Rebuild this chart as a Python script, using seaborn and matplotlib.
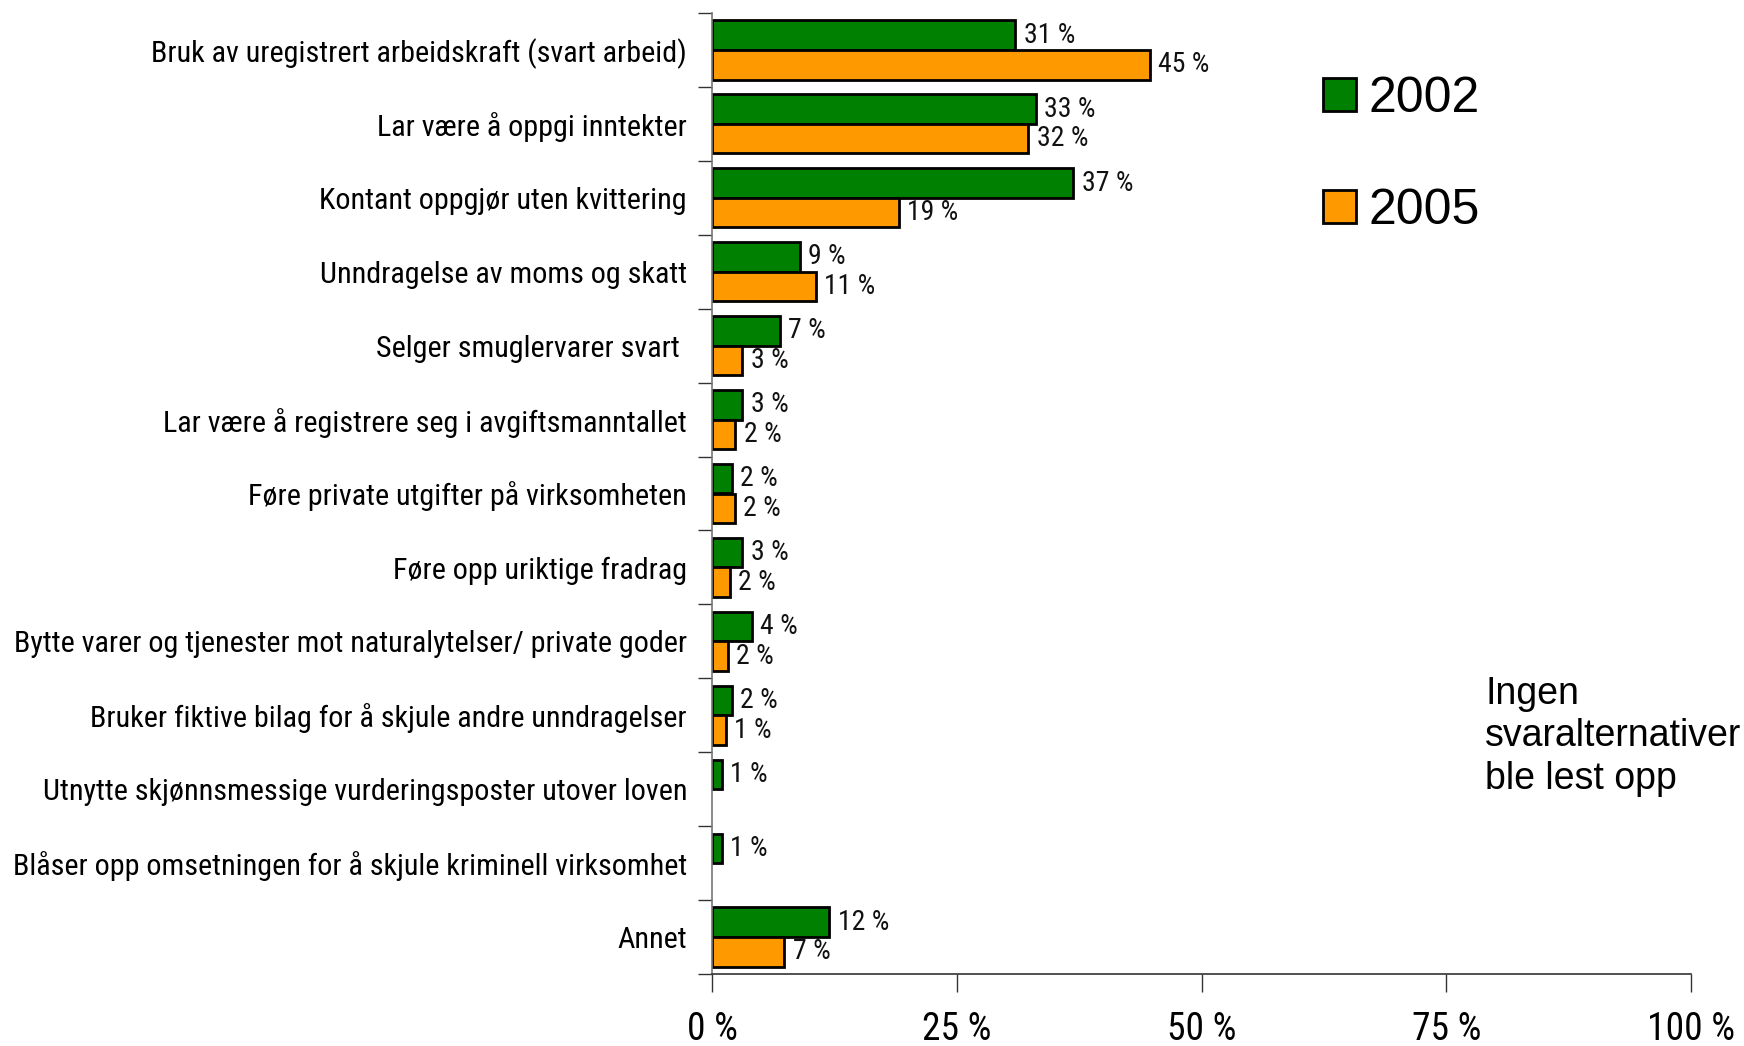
import matplotlib
matplotlib.use('Agg')
import matplotlib.pyplot as plt
from matplotlib.patches import Patch
import numpy as np
import pandas as pd
import seaborn as sns

# Categories (top to bottom) and the two survey years
kategorier = [
    "Bruk av uregistrert arbeidskraft (svart arbeid)",
    "Lar være å oppgi inntekter",
    "Kontant oppgjør uten kvittering",
    "Unndragelse av moms og skatt",
    "Selger smuglervarer svart ",
    "Lar være å registrere seg i avgiftsmanntallet",
    "Føre private utgifter på virksomheten",
    "Føre opp uriktige fradrag",
    "Bytte varer og tjenester mot naturalytelser/ private goder",
    "Bruker fiktive bilag for å skjule andre unndragelser",
    "Utnytte skjønnsmessige vurderingsposter utover loven",
    "Blåser opp omsetningen for å skjule kriminell virksomhet",
    "Annet",
]
aar = ["2002", "2005"]
andel_2002 = [31.0, 33.1, 36.9, 9.0, 6.9, 3.1, 2.0, 3.1, 4.1, 2.0, 1.0, 1.0, 12.0]
andel_2005 = [44.7, 32.3, 19.1, 10.6, 3.1, 2.4, 2.3, 1.8, 1.6, 1.4, np.nan, np.nan, 7.4]
x_ticks = [0, 25, 50, 75, 100]
farger = {"2002": "#008000", "2005": "#FF9900"}
merknad = "Ingen\nsvaralternativer\nble lest opp"

df = pd.DataFrame({
    "kategori": kategorier * 2,
    "år": [aar[0]] * len(kategorier) + [aar[1]] * len(kategorier),
    "andel": andel_2002 + andel_2005,
})

sns.set_style("white")
# condensed face for axis texts, Arial-like for legend and note
narrow = ["Roboto Condensed", "Liberation Sans"]
plt.rcParams["font.family"] = narrow
plt.rcParams["text.color"] = "black"
plt.rcParams["xtick.color"] = "black"
plt.rcParams["ytick.color"] = "black"

fig = plt.figure(figsize=(17.44, 10.46), dpi=100)
ax = fig.add_axes([712 / 1744, 1 - 974 / 1046, (1691 - 712) / 1744, (974 - 13) / 1046])

sns.barplot(data=df, y="kategori", x="andel", hue="år", hue_order=aar,
            order=kategorier, palette=farger, saturation=1, orient="h",
            errorbar=None, edgecolor="black", linewidth=2, width=0.8,
            legend=False, ax=ax)

for cont in ax.containers:
    ax.bar_label(cont, labels=[f"{v:.0f} %" for v in cont.datavalues],
                 padding=6, fontsize=20, color="#111111")

ax.set_xlim(0, 100)
ax.set_ylim(len(kategorier) - 0.5, -0.5)
ax.set_xticks(x_ticks)
ax.set_xticklabels([f"{t} %" for t in x_ticks], fontsize=27)
ax.set_yticks(np.arange(-0.5, len(kategorier), 1), minor=True)
ax.tick_params(axis="y", which="major", length=0, pad=18, labelsize=21.7)
ax.tick_params(axis="y", which="minor", left=True, length=10, width=1, color="#333333")
ax.tick_params(axis="x", bottom=True, length=13, width=1, color="#333333", pad=14)
ax.set_xlabel("")
ax.set_ylabel("")
for side in ["top", "right"]:
    ax.spines[side].set_visible(False)
ax.spines["left"].set_color("#777777")
ax.spines["bottom"].set_color("#333333")
ax.spines["left"].set_linewidth(1.2)
ax.spines["bottom"].set_linewidth(1.2)

handles = [Patch(facecolor=farger[a], edgecolor="black", linewidth=2, label=a) for a in aar]
fig.legend(handles=handles, loc="upper left", bbox_to_anchor=(1323 / 1744, 1 - 76 / 1046),
           frameon=False, prop={"family": "Liberation Sans", "size": 36},
           handlelength=0.66, handleheight=0.66, handletextpad=0.25,
           labelspacing=1.32, borderpad=0, borderaxespad=0)

fig.text(1485 / 1744, 1 - 676 / 1046, merknad, ha="left", va="top",
         fontsize=27, family="Liberation Sans", linespacing=1.23)

fig.savefig("out.png", dpi=100)
